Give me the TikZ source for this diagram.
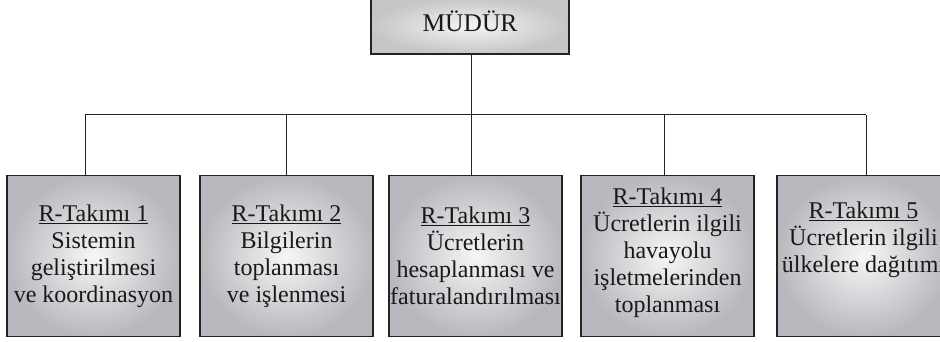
\documentclass[tikz,border=0pt]{standalone}
\usepackage{fontspec}
\setmainfont{Liberation Serif}
\begin{document}
\begin{tikzpicture}[x=1pt,y=-1pt]
\definecolor{edgegray}{RGB}{184,185,190}
\definecolor{midgray}{RGB}{246,246,246}
\definecolor{lineclr}{RGB}{35,35,35}
\tikzset{
  unitbox/.style={draw=lineclr, line width=1.2pt, shading=radial, inner color=midgray, outer color=edgegray,
    minimum width=173pt, minimum height=161pt, inner sep=0pt},
  mgrbox/.style={draw=lineclr, line width=1.2pt, shading=radial, inner color=white!92!gray, outer color=gray!45,
    minimum width=198pt, minimum height=56pt, inner sep=0pt},
  boxtext/.style={align=center, inner sep=0pt, text=black!90, font=\fontsize{24}{27}\selectfont},
  conn/.style={draw=lineclr, line width=1pt}
}
\useasboundingbox (0,0) rectangle (940,342);
% manager
\node[mgrbox] (m) at (470,26) {};
\node[inner sep=0pt, text=black!90, font=\fontsize{25.5}{28}\selectfont, anchor=base] (mt) at (470,32) {MÜDÜR};
% unit boxes
\node[unitbox] (b1) at (93.5,256) {};
\node[unitbox] (b2) at (286.5,256) {};
\node[unitbox] (b3) at (475.5,256) {};
\node[unitbox] (b4) at (667.5,256) {};
\node[unitbox] (b5) at (863.5,256) {};
\node[boxtext] (t1) at (93.5,256) {\underline{R-Takımı 1}\\Sistemin\\geliştirilmesi\\ve koordinasyon};
\node[boxtext] (t2) at (286.5,256) {\underline{R-Takımı 2}\\Bilgilerin\\toplanması\\ve işlenmesi};
\node[boxtext] (t3) at (475.5,256) {\underline{R-Takımı 3}\\Ücretlerin\\hesaplanması ve\\faturalandırılması};
\node[boxtext] (t4) at (667.5,253) {\underline{R-Takımı 4}\\Ücretlerin ilgili\\havayolu\\işletmelerinden\\toplanması};
\node[boxtext] (t5) at (863.5,240) {\underline{R-Takımı 5}\\Ücretlerin ilgili\\ülkelere dağıtımı};
% connectors
\coordinate (j1) at (85,115);
\coordinate (j2) at (286,115);
\coordinate (j3) at (471,115);
\coordinate (j4) at (664,115);
\coordinate (j5) at (866,115);
\draw[conn] (m.south -| j3) -- (j3);
\draw[conn] (j1) -- (j5);
\draw[conn] (j1) -- (j1 |- b1.north);
\draw[conn] (j2) -- (j2 |- b2.north);
\draw[conn] (j3) -- (j3 |- b3.north);
\draw[conn] (j4) -- (j4 |- b4.north);
\draw[conn] (j5) -- (j5 |- b5.north);
\end{tikzpicture}
\end{document}
